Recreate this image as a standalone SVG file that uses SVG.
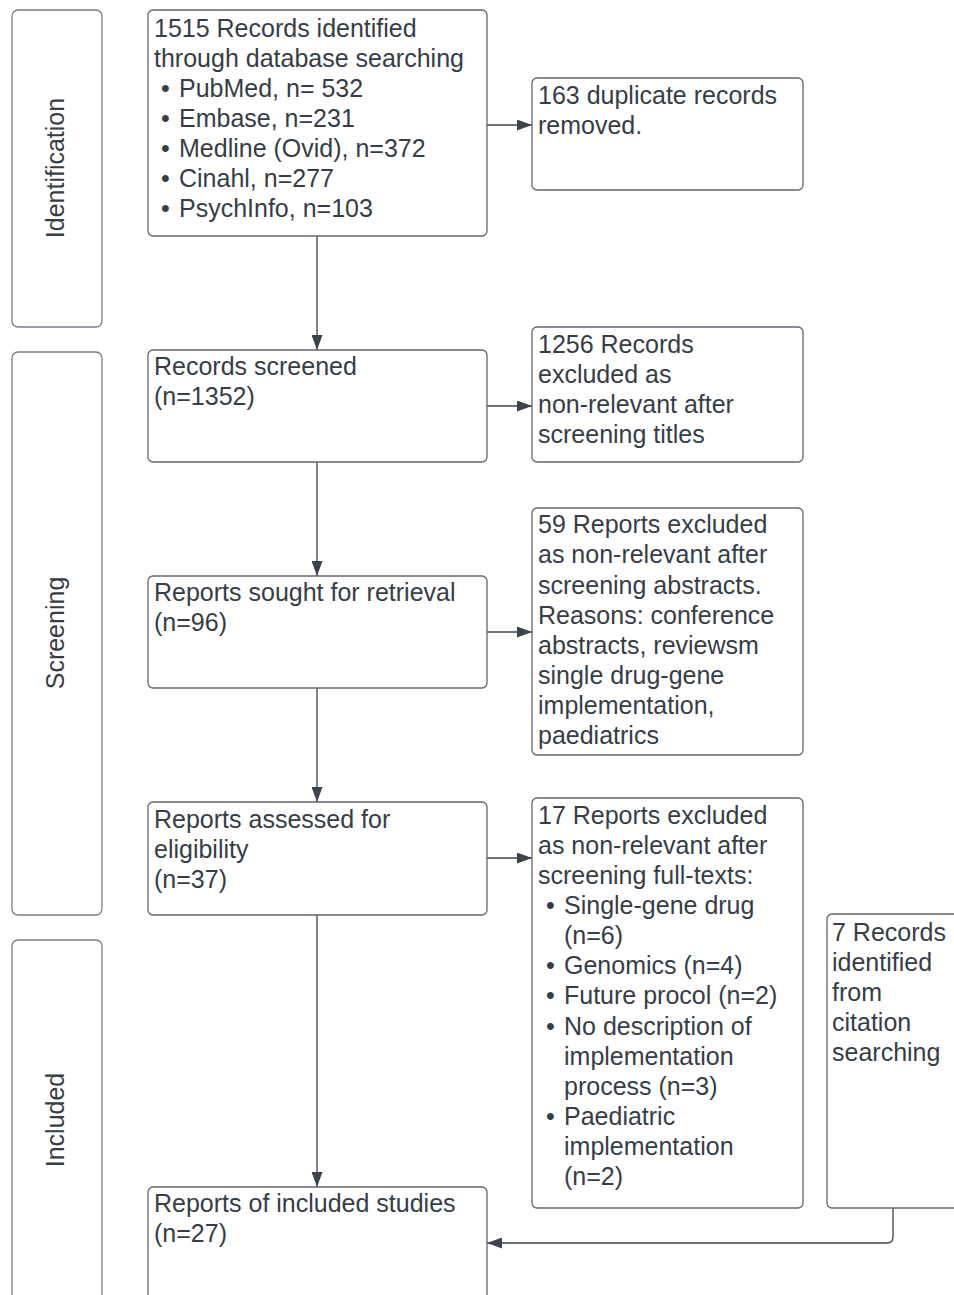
<svg xmlns="http://www.w3.org/2000/svg" width="954" height="1295" viewBox="0 0 954 1295">
  <style>
    .box { fill: #ffffff; stroke: #62666d; stroke-width: 1.3; }
    .stage { fill: #ffffff; stroke: #7a7e85; stroke-width: 1.3; }
    text { font-family: "Liberation Sans", Arial, sans-serif; font-size: 25px; fill: #363d47; }
    .wire { fill: none; stroke: #3d434c; stroke-width: 1.3; }
  </style>
  <defs>
    <marker id="arrow" viewBox="0 0 15 11" refX="15" refY="5.5" markerWidth="15" markerHeight="11" markerUnits="userSpaceOnUse" orient="auto">
      <path d="M0,0 L15,5.5 L0,11 Z" fill="#3d434c"/>
    </marker>
  </defs>

  <rect width="954" height="1295" fill="#ffffff"/>

  <!-- stage columns -->
  <g id="stage-identification">
    <rect class="stage" x="12" y="10" width="90" height="317" rx="6"/>
    <text transform="translate(64,168) rotate(-90)" text-anchor="middle">Identification</text>
  </g>
  <g id="stage-screening">
    <rect class="stage" x="12" y="352" width="90" height="563" rx="6"/>
    <text transform="translate(64,633) rotate(-90)" text-anchor="middle">Screening</text>
  </g>
  <g id="stage-included">
    <rect class="stage" x="12" y="940" width="90" height="370" rx="6"/>
    <text transform="translate(64,1120) rotate(-90)" text-anchor="middle">Included</text>
  </g>

  <!-- connectors -->
  <g id="connectors">
    <line class="wire" x1="317" y1="236" x2="317" y2="350" marker-end="url(#arrow)"/>
    <line class="wire" x1="317" y1="462" x2="317" y2="576" marker-end="url(#arrow)"/>
    <line class="wire" x1="317" y1="688" x2="317" y2="802" marker-end="url(#arrow)"/>
    <line class="wire" x1="317" y1="915" x2="317" y2="1187" marker-end="url(#arrow)"/>
    <line class="wire" x1="487" y1="125" x2="532" y2="125" marker-end="url(#arrow)"/>
    <line class="wire" x1="487" y1="406" x2="532" y2="406" marker-end="url(#arrow)"/>
    <line class="wire" x1="487" y1="632" x2="532" y2="632" marker-end="url(#arrow)"/>
    <line class="wire" x1="487" y1="858" x2="532" y2="858" marker-end="url(#arrow)"/>
    <path class="wire" d="M893,1208 L893,1237 Q893,1243 887,1243 L487,1243" marker-end="url(#arrow)"/>
  </g>

  <!-- identification -->
  <g id="node-identified">
    <rect class="box" x="148" y="10" width="339" height="226" rx="5"/>
    <text x="154" y="37">1515 Records identified</text>
    <text x="154" y="67">through database searching</text>
    <text x="161" y="97">•</text><text x="179" y="97">PubMed, n= 532</text>
    <text x="161" y="127">•</text><text x="179" y="127">Embase, n=231</text>
    <text x="161" y="157">•</text><text x="179" y="157">Medline (Ovid), n=372</text>
    <text x="161" y="187">•</text><text x="179" y="187">Cinahl, n=277</text>
    <text x="161" y="217">•</text><text x="179" y="217">PsychInfo, n=103</text>
  </g>
  <g id="node-duplicates">
    <rect class="box" x="532" y="78" width="271" height="112" rx="5"/>
    <text x="538" y="104">163 duplicate records</text>
    <text x="538" y="134">removed.</text>
  </g>

  <!-- screening -->
  <g id="node-screened">
    <rect class="box" x="148" y="350" width="339" height="112" rx="5"/>
    <text x="154" y="375">Records screened</text>
    <text x="154" y="405">(n=1352)</text>
  </g>
  <g id="node-excluded-titles">
    <rect class="box" x="532" y="327" width="271" height="135" rx="5"/>
    <text x="538" y="353">1256 Records</text>
    <text x="538" y="383">excluded as</text>
    <text x="538" y="413">non-relevant after</text>
    <text x="538" y="443">screening titles</text>
  </g>
  <g id="node-sought">
    <rect class="box" x="148" y="576" width="339" height="112" rx="5"/>
    <text x="154" y="601">Reports sought for retrieval</text>
    <text x="154" y="631">(n=96)</text>
  </g>
  <g id="node-excluded-abstracts">
    <rect class="box" x="532" y="508" width="271" height="247" rx="5"/>
    <text x="538" y="533">59 Reports excluded</text>
    <text x="538" y="563">as non-relevant after</text>
    <text x="538" y="594">screening abstracts.</text>
    <text x="538" y="624">Reasons: conference</text>
    <text x="538" y="654">abstracts, reviewsm</text>
    <text x="538" y="684">single drug-gene</text>
    <text x="538" y="714">implementation,</text>
    <text x="538" y="744">paediatrics</text>
  </g>
  <g id="node-assessed">
    <rect class="box" x="148" y="802" width="339" height="113" rx="5"/>
    <text x="154" y="828">Reports assessed for</text>
    <text x="154" y="858">eligibility</text>
    <text x="154" y="888">(n=37)</text>
  </g>
  <g id="node-excluded-fulltext">
    <rect class="box" x="532" y="798" width="271" height="410" rx="5"/>
    <text x="538" y="824">17 Reports excluded</text>
    <text x="538" y="854">as non-relevant after</text>
    <text x="538" y="884">screening full-texts:</text>
    <text x="546" y="914">•</text><text x="564" y="914">Single-gene drug</text>
    <text x="564" y="944">(n=6)</text>
    <text x="546" y="974">•</text><text x="564" y="974">Genomics (n=4)</text>
    <text x="546" y="1004">•</text><text x="564" y="1004">Future procol (n=2)</text>
    <text x="546" y="1035">•</text><text x="564" y="1035">No description of</text>
    <text x="564" y="1065">implementation</text>
    <text x="564" y="1095">process (n=3)</text>
    <text x="546" y="1125">•</text><text x="564" y="1125">Paediatric</text>
    <text x="564" y="1155">implementation</text>
    <text x="564" y="1185">(n=2)</text>
  </g>

  <!-- included -->
  <g id="node-citation">
    <rect class="box" x="827" y="914" width="160" height="294" rx="5"/>
    <text x="832" y="941">7 Records</text>
    <text x="832" y="971">identified</text>
    <text x="832" y="1001">from</text>
    <text x="832" y="1031">citation</text>
    <text x="832" y="1061">searching</text>
  </g>
  <g id="node-included">
    <rect class="box" x="148" y="1187" width="339" height="130" rx="5"/>
    <text x="154" y="1212">Reports of included studies</text>
    <text x="154" y="1242">(n=27)</text>
  </g>
</svg>
